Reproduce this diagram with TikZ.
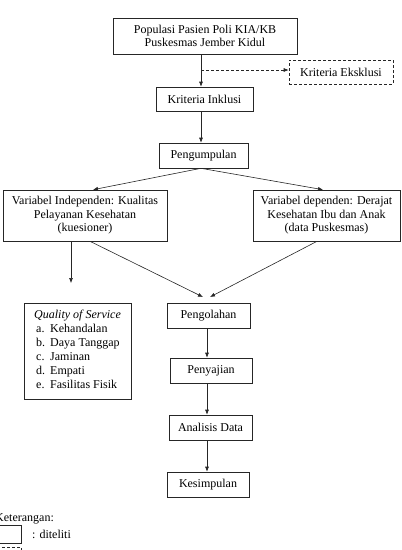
\documentclass[tikz,border=0pt]{standalone}
\usepackage{fontspec}
\setmainfont{Liberation Serif}
\usetikzlibrary{arrows.meta,calc}
\begin{document}
\begin{tikzpicture}[x=1pt,y=-1pt,
 box/.style={draw=black!85, line width=0.6pt, align=center, inner sep=0pt, font=\fontsize{12}{13.5}\selectfont},
 dbox/.style={box, dash pattern=on 3pt off 2pt},
 arr/.style={line width=0.6pt, draw=black!85, -{Latex[length=5pt,width=4pt]}},
 txt/.style={inner sep=0pt, font=\fontsize{12}{14}\selectfont, anchor=base west}]
\useasboundingbox (0,0) rectangle (402,550);
\clip (0,0) rectangle (402,550);
\node[box, minimum width=184pt, minimum height=36pt] (pop) at (205,36) {Populasi Pasien Poli KIA/KB\\Puskesmas Jember Kidul};
\node[dbox, minimum width=104pt, minimum height=24pt] (ke) at (341,72) {Kriteria Eksklusi};
\node[box, minimum width=97pt, minimum height=24pt] (ki) at (204.5,99) {Kriteria Inklusi};
\node[box, minimum width=89pt, minimum height=25pt] (pg) at (203.5,155.5) {Pengumpulan};
\node[box, minimum width=164pt, minimum height=51pt] (ind) at (85,215.5) {Variabel Independen: Kualitas\\Pelayanan Kesehatan\\(kuesioner)};
\node[box, minimum width=147pt, minimum height=51pt] (dep) at (326.5,215.5) {Variabel dependen: Derajat\\Kesehatan Ibu dan Anak\\(data Puskesmas)};
\node[box, minimum width=107pt, minimum height=96pt] (qos) at (77.5,351) {};
\node[txt] (qt) at (34,318) {\textit{Quality of Service}};
\node[txt] (qa) at (36,332) {a.};
\node[txt] (qat) at (50,332) {Kehandalan};
\node[txt] (qb) at (36,346) {b.};
\node[txt] (qbt) at (50,346) {Daya Tanggap};
\node[txt] (qc) at (36,360) {c.};
\node[txt] (qct) at (50,360) {Jaminan};
\node[txt] (qd) at (36,374) {d.};
\node[txt] (qdt) at (50,374) {Empati};
\node[txt] (qe) at (36,388) {e.};
\node[txt] (qet) at (50,388) {Fasilitas Fisik};
\node[box, minimum width=83pt, minimum height=25pt] (olah) at (208.5,315.5) {Pengolahan};
\node[box, minimum width=82pt, minimum height=25pt] (saji) at (211,370.5) {Penyajian};
\node[box, minimum width=83pt, minimum height=25pt] (anal) at (210.5,427.5) {Analisis Data};
\node[box, minimum width=82pt, minimum height=25pt] (kes) at (208,484.5) {Kesimpulan};
\node[txt] (ket) at (-5,521) {Keterangan:};
\node[box, minimum width=26pt, minimum height=18pt] (leg1) at (8,534) {};
\node[txt] (legt) at (32,538) {: diteliti};
\node[dbox, minimum width=26pt, minimum height=18pt] (leg2) at (8,556) {};
\coordinate (spine) at (201,0);
\coordinate (spine2) at (207,0);
\coordinate (dsrc) at (201,70);
\coordinate (qarr) at (71,283);
\coordinate (tipL) at (203,297);
\coordinate (tipR) at (210,297);
\draw[arr] (pop.south -| spine) -- (ki.north -| spine);
\draw[arr, dash pattern=on 3pt off 2pt] (dsrc) -- (ke.west |- dsrc);
\draw[arr] (ki.south -| spine) -- (pg.north -| spine);
\draw[arr] (pg.south -| spine) -- ($(ind.north)+(8,0)$);
\draw[arr] (pg.south -| spine) -- ($(dep.north)+(-3.5,0)$);
\draw[arr] ($(ind.south)+(-14,0)$) -- (qarr);
\draw[arr] ($(ind.south)+(5,0)$) -- (tipL);
\draw[arr] ($(dep.south)+(-9.5,0)$) -- (tipR);
\draw[arr] (olah.south -| spine2) -- (saji.north -| spine2);
\draw[arr] (saji.south -| spine2) -- (anal.north -| spine2);
\draw[arr] (anal.south -| spine2) -- (kes.north -| spine2);
\end{tikzpicture}
\end{document}
